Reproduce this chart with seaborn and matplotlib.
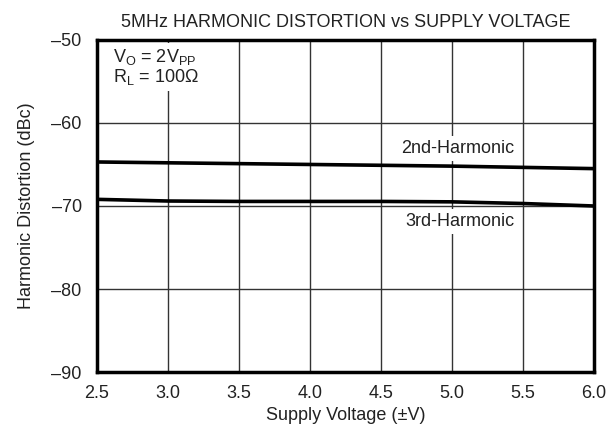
import matplotlib
matplotlib.use("Agg")
import matplotlib.pyplot as plt
import numpy as np
import pandas as pd
import seaborn as sns

# Values
supply_v = [2.5, 3.0, 3.5, 4.0, 4.5, 5.0, 5.5, 6.0]
hd2 = [-64.7, -64.8, -64.9, -65.0, -65.1, -65.2, -65.35, -65.5]
hd3 = [-69.2, -69.4, -69.45, -69.45, -69.45, -69.5, -69.7, -70.0]

x_ticks = [2.5, 3.0, 3.5, 4.0, 4.5, 5.0, 5.5, 6.0]
y_ticks = [-90, -80, -70, -60, -50]

sns.set_theme(style="white")
plt.rcParams["font.family"] = ["Liberation Sans", "DejaVu Sans"]
plt.rcParams["mathtext.fontset"] = "custom"
plt.rcParams["mathtext.rm"] = "Liberation Sans"
plt.rcParams["mathtext.it"] = "Liberation Sans"

FS = 13
TXT = "#222222"

df = pd.DataFrame({"v": supply_v * 2,
                   "hd": hd2 + hd3,
                   "series": ["2nd"] * len(hd2) + ["3rd"] * len(hd3)})

fig = plt.figure(figsize=(6.14, 4.43), dpi=100)
ax = fig.add_axes([0.158, 0.160, 0.809, 0.750])

ax.set_xlim(2.5, 6.0)
ax.set_ylim(-90, -50)
ax.set_xticks(x_ticks)
ax.set_yticks(y_ticks)
ax.set_xticklabels([f"{t:.1f}" for t in x_ticks], fontsize=FS, color=TXT)
ax.set_yticklabels([f"\u2013{abs(t)}" for t in y_ticks], fontsize=FS, color=TXT)
ax.tick_params(axis="y", length=0, pad=11)
ax.tick_params(axis="x", length=0, pad=9)

ax.grid(True, color="#333333", linewidth=1.0)
ax.set_axisbelow(True)
for s in ax.spines.values():
    s.set_visible(True)
    s.set_color("black")
    s.set_linewidth(2.5)

sns.lineplot(data=df, x="v", y="hd", units="series", estimator=None,
             color="black", linewidth=2.6, ax=ax, legend=False)

box = dict(facecolor="white", edgecolor="none", pad=3)
ax.text(2.61, -50.9, "V$_\\mathregular{O}$ = 2V$_\\mathregular{PP}$\nR$_\\mathregular{L}$ = 100\u03a9",
        fontsize=FS, color=TXT, va="top", ha="left", linespacing=1.0, bbox=box, zorder=3)
ax.text(5.44, -63.1, "2nd-Harmonic", fontsize=FS, color=TXT,
        ha="right", va="center", bbox=box, zorder=3)
ax.text(5.44, -71.9, "3rd-Harmonic", fontsize=FS, color=TXT,
        ha="right", va="center", bbox=box, zorder=3)

ax.set_title("5MHz HARMONIC DISTORTION vs SUPPLY VOLTAGE", fontsize=FS,
             color=TXT, pad=9)
ax.set_xlabel("Supply Voltage (\u00b1V)", fontsize=FS, color=TXT, labelpad=4)
ax.set_ylabel("Harmonic Distortion (dBc)", fontsize=FS, color=TXT, labelpad=12)

fig.savefig("out.png", dpi=100)
